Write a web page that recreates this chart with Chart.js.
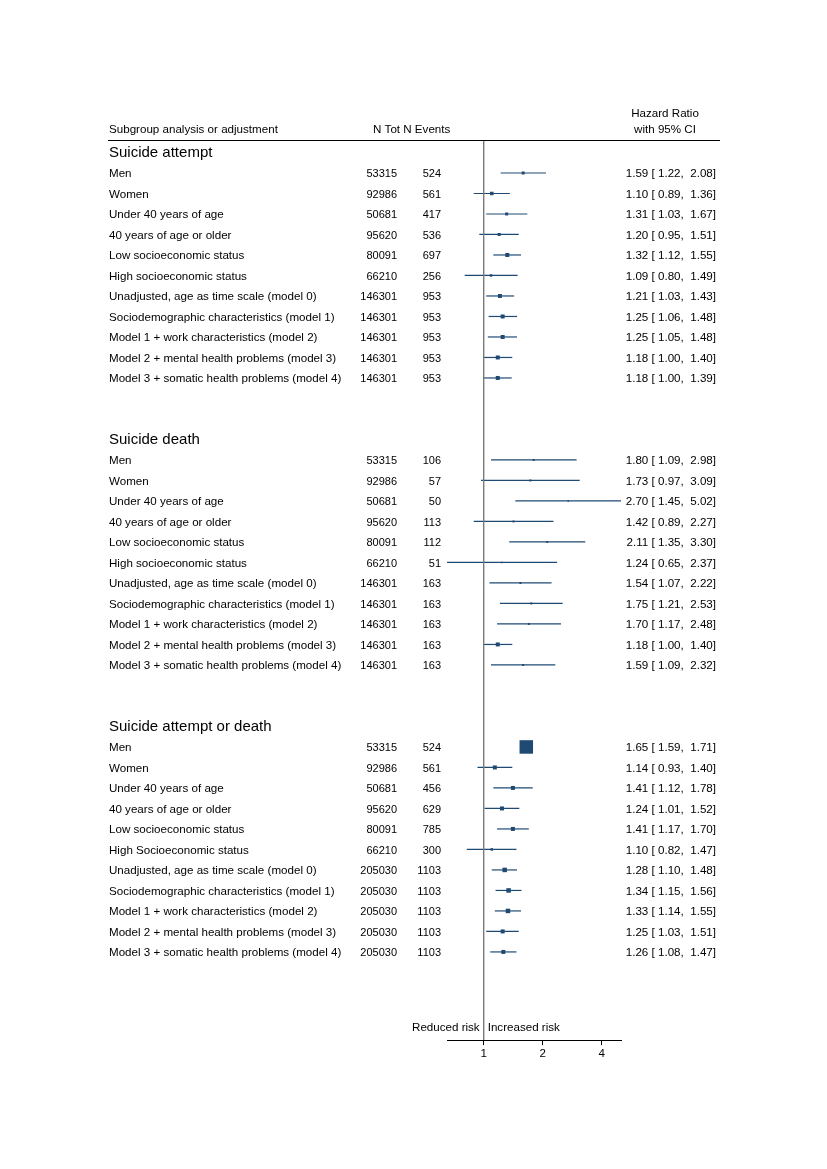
<!DOCTYPE html>
<html>
<head>
<meta charset="utf-8">
<script src="https://cdn.jsdelivr.net/npm/chart.js@4"></script>
<style>
  html, body { margin: 0; padding: 0; background: #fff; }
  canvas { display: block; }
</style>
</head>
<body>
<canvas id="forest" width="827" height="1169" style="width:827px;height:1169px"></canvas>
<script>
// ---- DATA ----
const groupTitles = ["Suicide attempt", "Suicide death", "Suicide attempt or death"];

const labelsAttempt = [
    "Men", "Women", "Under 40 years of age", "40 years of age or older",
    "Low socioeconomic status", "High socioeconomic status",
    "Unadjusted, age as time scale (model 0)", "Sociodemographic characteristics (model 1)",
    "Model 1 + work characteristics (model 2)", "Model 2 + mental health problems (model 3)",
    "Model 3 + somatic health problems (model 4)"
];
const labelsDeath = labelsAttempt;
const labelsBoth = [
    "Men", "Women", "Under 40 years of age", "40 years of age or older",
    "Low socioeconomic status", "High Socioeconomic status",
    "Unadjusted, age as time scale (model 0)", "Sociodemographic characteristics (model 1)",
    "Model 1 + work characteristics (model 2)", "Model 2 + mental health problems (model 3)",
    "Model 3 + somatic health problems (model 4)"
];

// suicide attempt
const nTotAttempt = [53315, 92986, 50681, 95620, 80091, 66210, 146301, 146301, 146301, 146301, 146301];
const nEvAttempt  = [524, 561, 417, 536, 697, 256, 953, 953, 953, 953, 953];
const hrAttempt   = [1.59, 1.10, 1.31, 1.20, 1.32, 1.09, 1.21, 1.25, 1.25, 1.18, 1.18];
const loAttempt   = [1.22, 0.89, 1.03, 0.95, 1.12, 0.80, 1.03, 1.06, 1.05, 1.00, 1.00];
const hiAttempt   = [2.08, 1.36, 1.67, 1.51, 1.55, 1.49, 1.43, 1.48, 1.48, 1.40, 1.39];

// suicide death
const nTotDeath = [53315, 92986, 50681, 95620, 80091, 66210, 146301, 146301, 146301, 146301, 146301];
const nEvDeath  = [106, 57, 50, 113, 112, 51, 163, 163, 163, 163, 163];
const hrDeath   = [1.80, 1.73, 2.70, 1.42, 2.11, 1.24, 1.54, 1.75, 1.70, 1.18, 1.59];
const loDeath   = [1.09, 0.97, 1.45, 0.89, 1.35, 0.65, 1.07, 1.21, 1.17, 1.00, 1.09];
const hiDeath   = [2.98, 3.09, 5.02, 2.27, 3.30, 2.37, 2.22, 2.53, 2.48, 1.40, 2.32];

// suicide attempt or death
const nTotBoth = [53315, 92986, 50681, 95620, 80091, 66210, 205030, 205030, 205030, 205030, 205030];
const nEvBoth  = [524, 561, 456, 629, 785, 300, 1103, 1103, 1103, 1103, 1103];
const hrBoth   = [1.65, 1.14, 1.41, 1.24, 1.41, 1.10, 1.28, 1.34, 1.33, 1.25, 1.26];
const loBoth   = [1.59, 0.93, 1.12, 1.01, 1.17, 0.82, 1.10, 1.15, 1.14, 1.03, 1.08];
const hiBoth   = [1.71, 1.40, 1.78, 1.52, 1.70, 1.47, 1.48, 1.56, 1.55, 1.51, 1.47];

// marker box side (px)
const boxAttempt = [3, 3.5, 3, 3, 4, 2.5, 4, 4, 4, 4, 4];
const boxDeath   = [2, 2, 1.5, 2, 2, 1.5, 2, 2, 2, 4, 2];
const boxBoth    = [13.5, 4, 4, 4, 4, 2.5, 4.5, 4.5, 4.5, 4, 4];

const xTicks = [1, 2, 4];

// ---- BUILD ROWS ----
const groups = [
    { labels: labelsAttempt, nTot: nTotAttempt, nEv: nEvAttempt, hr: hrAttempt, lo: loAttempt, hi: hiAttempt, box: boxAttempt },
    { labels: labelsDeath, nTot: nTotDeath, nEv: nEvDeath, hr: hrDeath, lo: loDeath, hi: hiDeath, box: boxDeath },
    { labels: labelsBoth, nTot: nTotBoth, nEv: nEvBoth, hr: hrBoth, lo: loBoth, hi: hiBoth, box: boxBoth }
];

const rows = [];      // data rows
const headRows = [];  // group title rows
groups.forEach((g, gi) => {
    const start = gi * 14;
    headRows.push({ row: start, title: groupTitles[gi] });
    g.labels.forEach((lab, i) => {
        rows.push({
            row: start + 1 + i, label: lab, nTot: g.nTot[i], nEv: g.nEv[i],
            hr: g.hr[i], lo: g.lo[i], hi: g.hi[i], box: g.box[i]
        });
    });
});

const allLo = rows.map(r => r.lo);
const allHi = rows.map(r => r.hi);
const lastRow = 43.3;
const firstRow = -0.56;

const blue = "#1f4a73";

// CI lines, one small dataset per row
const ciSets = rows.map(r => ({
    type: "line",
    data: [{ x: r.lo, y: r.row }, { x: r.hi, y: r.row }],
    borderColor: blue,
    borderWidth: 1.2,
    pointRadius: 0,
    fill: false
}));

const refLine = {
    type: "line",
    data: [{ x: 1, y: firstRow }, { x: 1, y: lastRow }],
    borderColor: "#7a7a7a",
    borderWidth: 1,
    pointRadius: 0,
    fill: false
};

const markers = {
    type: "scatter",
    data: rows.map(r => ({ x: r.hr, y: r.row })),
    pointStyle: "rect",
    pointRadius: rows.map(r => r.box / Math.SQRT2),
    backgroundColor: blue,
    borderColor: blue,
    borderWidth: 0
};

const FONT = "'Liberation Sans', Arial, Helvetica, sans-serif";

// table text and rules
const tablePlugin = {
    id: "table",
    afterDraw(chart) {
        const ctx = chart.ctx;
        const y = chart.scales.y;
        const x = chart.scales.x;
        ctx.save();
        ctx.fillStyle = "#000";
        ctx.textBaseline = "middle";

        // header
        ctx.font = "11.6px " + FONT;
        ctx.textAlign = "left";
        ctx.fillText("Subgroup analysis or adjustment", 109, 130);
        ctx.fillText("N Tot N Events", 373, 130);
        ctx.textAlign = "center";
        ctx.fillText("Hazard Ratio", 665, 114);
        ctx.fillText("with 95% CI", 665, 130);

        ctx.strokeStyle = "#000";
        ctx.lineWidth = 1.2;
        ctx.beginPath();
        ctx.moveTo(108, 140.5);
        ctx.lineTo(720, 140.5);
        ctx.stroke();

        // group titles
        ctx.font = "15px " + FONT;
        ctx.textAlign = "left";
        headRows.forEach(h => ctx.fillText(h.title, 109, y.getPixelForValue(h.row)));

        // rows, all on one baseline
        ctx.textBaseline = "alphabetic";
        rows.forEach(r => {
            const base = y.getPixelForValue(r.row) + 4.2;
            ctx.font = "11.6px " + FONT;
            ctx.textAlign = "left";
            ctx.fillText(r.label, 109, base);
            ctx.textAlign = "right";
            ctx.fillText(r.hr.toFixed(2) + " [ " + r.lo.toFixed(2) + ",  " + r.hi.toFixed(2) + "]", 716, base);
            ctx.font = "11px " + FONT;
            ctx.fillText(String(r.nTot), 397, base);
            ctx.fillText(String(r.nEv), 441, base);
        });

        // risk labels
        ctx.textBaseline = "middle";
        const x1 = x.getPixelForValue(1);
        ctx.font = "11.6px " + FONT;
        ctx.textAlign = "right";
        ctx.fillText("Reduced risk", x1 - 4, 1028);
        ctx.textAlign = "left";
        ctx.fillText("Increased risk", x1 + 4, 1028);
        ctx.restore();
    }
};

new Chart(document.getElementById("forest"), {
    data: { datasets: [refLine, ...ciSets, markers] },
    options: {
        responsive: false,
        animation: false,
        devicePixelRatio: 1,
        layout: { padding: { left: 447, right: 206, top: 141, bottom: 106 } },
        plugins: { legend: { display: false }, tooltip: { enabled: false } },
        scales: {
            x: {
                type: "logarithmic",
                min: Math.min(...allLo),
                max: Math.max(...allHi),
                afterBuildTicks: axis => { axis.ticks = xTicks.map(v => ({ value: v })); },
                ticks: {
                    color: "#000",
                    font: { family: FONT, size: 11.6 },
                    padding: 2,
                    autoSkip: false,
                    maxRotation: 0,
                    callback: v => String(v)
                },
                grid: { drawOnChartArea: false, drawTicks: true, tickLength: 5, color: "#000" },
                border: { display: true, color: "#000", width: 1 }
            },
            y: {
                type: "linear",
                display: false,
                reverse: true,
                min: firstRow,
                max: lastRow
            }
        }
    },
    plugins: [tablePlugin]
});
</script>
</body>
</html>
